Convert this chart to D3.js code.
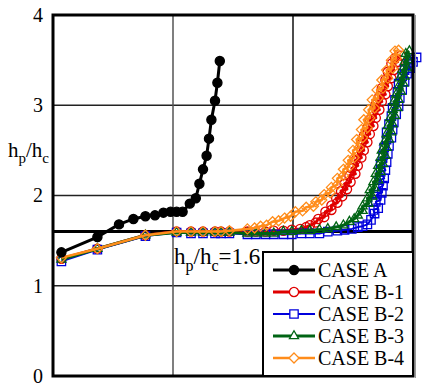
<!DOCTYPE html>
<html>
<head>
<meta charset="utf-8">
<script src="https://cdn.jsdelivr.net/npm/d3@7"></script>
<style>
  body { margin: 0; background: #fff; }
  svg { display: block; }
</style>
</head>
<body>
<script>
// ---------- DATA ----------
const yTickValues = [0, 1, 2, 3, 4];
const yTickLabels = ["0", "1", "2", "3", "4"];
const xGridValues = [1, 2];
const refValue = 1.6;

const seriesNames = ["CASE A", "CASE B-1", "CASE B-2", "CASE B-3", "CASE B-4"];

const caseA_x = [0.07,0.37,0.55,0.67,0.77,0.85,0.92,0.98,1.03,1.08,1.14,1.19,1.22,1.25,1.28,1.30,1.32,1.35,1.37,1.39];
const caseA_y = [1.37,1.54,1.68,1.74,1.77,1.78,1.81,1.82,1.82,1.82,1.91,1.97,2.13,2.29,2.44,2.63,2.84,3.05,3.25,3.49];

const caseB1_x = [0.07,0.37,0.77,1.03,1.15,1.25,1.35,1.40,1.47,
  1.62,1.69,1.77,1.84,1.92,1.99,
  2.06,2.11,2.14,2.19,2.21,2.26,2.27,2.32,2.32,2.37,2.36,2.41,2.40,2.45,2.43,2.48,2.47,2.52,2.49,2.54,
  2.52,2.57,2.54,2.59,2.57,2.62,2.59,2.64,2.62,2.67,2.64,2.69,2.67,2.72,2.69,2.74,2.72,2.77,2.74,2.79,
  2.77,2.82,2.79,2.84,2.82,2.87,2.85,2.90];
const caseB1_y = [1.30,1.41,1.56,1.60,1.60,1.60,1.60,1.60,1.60,
  1.60,1.60,1.60,1.61,1.61,1.62,
  1.63,1.65,1.67,1.70,1.74,1.76,1.82,1.84,1.89,1.92,1.97,1.99,2.05,2.07,2.13,2.15,2.22,2.24,2.30,2.33,
  2.39,2.42,2.48,2.50,2.57,2.59,2.66,2.68,2.75,2.77,2.84,2.86,2.93,2.95,3.01,3.04,3.10,3.12,3.19,3.21,
  3.28,3.30,3.37,3.39,3.46,3.48,3.52,3.55];

const caseB2_x = [0.07,0.37,0.77,1.03,1.15,1.25,1.35,1.40,1.47,
  1.62,1.69,1.77,1.84,1.92,1.99,2.07,2.14,2.22,2.29,2.37,2.43,2.49,2.54,2.58,2.62,2.65,2.68,
  2.67,2.71,2.69,2.73,2.70,2.74,2.71,2.75,2.72,2.76,2.73,2.77,2.73,2.78,2.75,2.79,2.76,2.80,2.78,2.82,
  2.78,2.83,2.80,2.84,2.82,2.86,2.83,2.88,2.85,2.89,2.87,2.91,2.88,2.93,2.91,2.95,2.93,2.98,2.96,3.00,2.98,3.03];
const caseB2_y = [1.27,1.40,1.55,1.59,1.58,1.58,1.58,1.58,1.58,
  1.57,1.57,1.57,1.57,1.57,1.57,1.58,1.58,1.58,1.60,1.61,1.62,1.63,1.65,1.66,1.68,1.73,1.80,
  1.84,1.86,1.93,1.95,2.01,2.03,2.08,2.11,2.17,2.19,2.26,2.28,2.35,2.37,2.44,2.46,2.53,2.55,2.62,2.64,
  2.70,2.73,2.79,2.81,2.88,2.90,2.97,2.99,3.06,3.08,3.15,3.17,3.24,3.26,3.32,3.35,3.39,3.41,3.46,3.48,3.51,3.53];

const caseB3_x = [0.07,0.37,0.77,1.03,1.15,1.25,1.35,1.40,1.47,
  1.62,1.69,1.77,1.84,1.92,1.99,2.07,2.14,2.22,2.29,2.36,2.42,2.47,2.51,2.54,2.58,
  2.58,2.63,2.62,2.66,2.64,2.68,2.67,2.71,2.69,2.73,2.71,2.75,2.73,2.77,2.74,2.78,2.76,2.80,2.78,2.82,
  2.79,2.83,2.81,2.85,2.83,2.87,2.84,2.88,2.86,2.90,2.88,2.92,2.89,2.93,2.91,2.95,2.93,2.96,2.94,2.97];
const caseB3_y = [1.29,1.41,1.56,1.59,1.59,1.59,1.59,1.59,1.59,
  1.58,1.58,1.58,1.58,1.60,1.60,1.61,1.61,1.62,1.63,1.65,1.67,1.71,1.74,1.78,1.83,
  1.88,1.91,1.97,1.99,2.06,2.08,2.15,2.17,2.24,2.26,2.33,2.35,2.42,2.44,2.50,2.53,2.59,2.62,2.68,2.70,
  2.77,2.79,2.86,2.88,2.95,2.97,3.04,3.06,3.12,3.15,3.21,3.24,3.30,3.32,3.39,3.41,3.48,3.50,3.57,3.60];

const caseB4_x = [0.07,0.37,0.77,1.03,1.15,1.25,1.35,1.40,1.47,
  1.62,1.68,1.73,1.78,1.83,1.88,1.93,1.98,2.02,2.08,2.11,2.17,2.19,2.24,2.26,2.31,2.32,2.37,2.37,2.42,
  2.42,2.47,2.46,2.51,2.50,2.55,2.53,2.58,2.57,2.62,2.59,2.64,2.63,2.68,2.66,2.71,2.70,2.75,2.74,2.79,
  2.78,2.83,2.82,2.86,2.85,2.88];
const caseB4_y = [1.31,1.41,1.56,1.60,1.60,1.60,1.60,1.60,1.61,
  1.63,1.64,1.66,1.67,1.71,1.72,1.75,1.77,1.82,1.83,1.87,1.88,1.93,1.95,2.01,2.03,2.09,2.12,2.19,2.22,
  2.29,2.32,2.39,2.42,2.50,2.53,2.62,2.64,2.73,2.75,2.84,2.86,2.95,2.97,3.06,3.08,3.17,3.19,3.28,3.30,
  3.39,3.41,3.50,3.52,3.60,3.61];

// ---------- CHART ----------
const FONT = "Liberation Serif";
const W = 431, H = 385;
const svg = d3.select("body").append("svg").attr("width", W).attr("height", H);

const x = d3.scaleLinear().domain([0, 3]).range([53, 413]);
const y = d3.scaleLinear().domain([0, 4]).range([376, 15]);

// gridlines
svg.append("g").selectAll("line").data([1, 2, 3]).join("line")
  .attr("x1", x(0)).attr("x2", x(3))
  .attr("y1", d => y(d)).attr("y2", d => y(d))
  .attr("stroke", "#222").attr("stroke-width", 1.5);
svg.append("g").selectAll("line").data(xGridValues).join("line")
  .attr("x1", d => x(d)).attr("x2", d => x(d))
  .attr("y1", y(0)).attr("y2", y(4))
  .attr("stroke", (d, i) => i === 0 ? "#555" : "#111").attr("stroke-width", 1.5);

// reference line h_p/h_c = 1.6
svg.append("line")
  .attr("x1", x(0)).attr("x2", x(3))
  .attr("y1", y(refValue)).attr("y2", y(refValue))
  .attr("stroke", "#000").attr("stroke-width", 3);

// y axis labels
const yAxis = d3.axisLeft(y).tickValues(yTickValues)
  .tickFormat((d, i) => yTickLabels[i]).tickSize(0).tickPadding(10);
const gy = svg.append("g").attr("transform", `translate(${x(0)},0)`).call(yAxis);
gy.select(".domain").remove();
gy.attr("font-family", null).attr("font-size", null);
gy.selectAll("text").style("font-family", FONT).style("font-size", "20px").attr("fill", "#000");

// marker generators
function markerPath(type) {
  if (type === "circle" || type === "filled") return d3.symbol().type(d3.symbolCircle).size(66)();
  if (type === "square") return d3.symbol().type(d3.symbolSquare).size(70)();
  if (type === "triangle") return d3.symbol().type(d3.symbolTriangle).size(36)();
  if (type === "diamond") { const r = 5; return `M0,${-r}L${r},0L0,${r}L${-r},0Z`; }
}

const series = [
  { name: seriesNames[1], xs: caseB1_x, ys: caseB1_y, color: "#e00000", lw: 3, marker: "circle" },
  { name: seriesNames[2], xs: caseB2_x, ys: caseB2_y, color: "#0000dd", lw: 2, marker: "square" },
  { name: seriesNames[3], xs: caseB3_x, ys: caseB3_y, color: "#006414", lw: 3, marker: "triangle" },
  { name: seriesNames[4], xs: caseB4_x, ys: caseB4_y, color: "#ff8c1a", lw: 2.5, marker: "diamond" },
  { name: seriesNames[0], xs: caseA_x, ys: caseA_y, color: "#000", lw: 3, marker: "filled" }
];

const line = d3.line().x(d => x(d[0])).y(d => y(d[1]));

series.forEach(s => {
  const pts = s.xs.map((v, i) => [v, s.ys[i]]);
  const g = svg.append("g");
  g.append("path").attr("d", line(pts)).attr("fill", "none")
    .attr("stroke", s.color).attr("stroke-width", s.lw).attr("stroke-linejoin", "round");
  g.selectAll("path.m").data(pts).join("path").attr("class", "m")
    .attr("d", markerPath(s.marker))
    .attr("transform", d => `translate(${x(d[0])},${y(d[1])})`)
    .attr("fill", s.marker === "filled" ? "#000" : "none")
    .attr("stroke", s.color).attr("stroke-width", 1.3);
});

// frame
svg.append("rect").attr("x", x(0)).attr("y", y(4))
  .attr("width", x(3) - x(0)).attr("height", y(0) - y(4))
  .attr("fill", "none").attr("stroke", "#000").attr("stroke-width", 3);
svg.append("line").attr("x1", x(3) + 2.5).attr("x2", x(3) + 2.5).attr("y1", y(4)).attr("y2", y(0) + 2)
  .attr("stroke", "#999").attr("stroke-width", 1);

// y label h_p/h_c
const yl = svg.append("text").attr("x", 8).attr("y", 157)
  .style("font-family", FONT).style("font-size", "21px");
yl.append("tspan").text("h");
yl.append("tspan").attr("dy", 6).style("font-size", "15px").text("p");
yl.append("tspan").attr("dy", -6).text("/h");
yl.append("tspan").attr("dy", 6).style("font-size", "15px").text("c");

// annotation h_p/h_c=1.6
const an = svg.append("text").attr("x", 174).attr("y", 264)
  .style("font-family", FONT).style("font-size", "23px");
an.append("tspan").text("h");
an.append("tspan").attr("dy", 7).style("font-size", "16px").text("p");
an.append("tspan").attr("dy", -7).text("/h");
an.append("tspan").attr("dy", 7).style("font-size", "16px").text("c");
an.append("tspan").attr("dy", -7).text("=1.6");

// legend
const legendOrder = [series[4], series[0], series[1], series[2], series[3]];
const lg = svg.append("g");
lg.append("rect").attr("x", 263).attr("y", 252).attr("width", 150).attr("height", 124)
  .attr("fill", "#fff").attr("stroke", "#000").attr("stroke-width", 2);
legendOrder.forEach((s, i) => {
  const cy = 270 + i * 22;
  lg.append("line").attr("x1", 273).attr("x2", 315).attr("y1", cy).attr("y2", cy)
    .attr("stroke", s.color).attr("stroke-width", s.lw);
  lg.append("path").attr("d", markerPath(s.marker))
    .attr("transform", `translate(294,${cy})`)
    .attr("fill", s.marker === "filled" ? "#000" : "#fff")
    .attr("stroke", s.color).attr("stroke-width", 1.3);
  lg.append("text").attr("x", 318).attr("y", cy + 7)
    .style("font-family", FONT).style("font-size", "20px").text(s.name);
});
</script>
</body>
</html>
